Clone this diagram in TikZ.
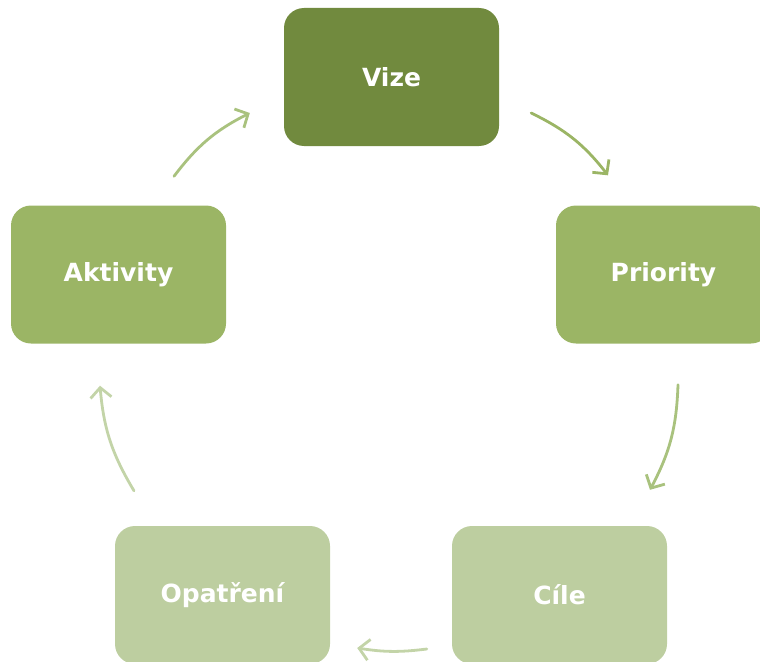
\documentclass[tikz,border=0pt]{standalone}
\usepackage{fontspec}
\setmainfont{DejaVu Sans}
\usetikzlibrary{arrows.meta}

\definecolor{vizegreen}{HTML}{718A3E}
\definecolor{midgreen}{HTML}{9BB565}
\definecolor{lightgreen}{HTML}{BDCEA0}
\definecolor{arrowmid}{HTML}{A9C27E}
\definecolor{arrowlight}{HTML}{C3D4A8}

\begin{document}
\begin{tikzpicture}[
    x=1pt, y=1pt,
    font=\bfseries\fontsize{25}{30}\selectfont,
    stage/.style={rectangle, rounded corners=20pt, minimum width=215pt, minimum height=138pt, inner sep=0pt, text=white},
    flow/.style={-{Straight Barb[length=10pt,width=21pt,line width=2.8pt]}, line width=2.8pt, line cap=round}
  ]
  \useasboundingbox (0,0) rectangle (760,-661);

  % Stages of the cycle
  \node[stage, fill=vizegreen] (vize) at (391.5,-77) {Vize};
  \node[stage, fill=midgreen] (priority) at (663.5,-274.5) {Priority};
  \node[stage, fill=lightgreen] (cile) at (559.5,-595) {Cíle};
  \node[stage, fill=lightgreen] (opatreni) at (222.5,-595) {Opatření};
  \node[stage, fill=midgreen] (aktivity) at (118.5,-274.5) {Aktivity};

  % Curved arrows between stages
  \draw[flow, midgreen] ([shift={(32,-36)}]vize.east) to[bend left=13] ([shift={(-55.5,30)}]priority.north);
  \draw[flow, arrowmid] ([shift={(14.5,-41)}]priority.south) to[bend left=13] ([shift={(90.5,36)}]cile.north);
  \draw[flow, arrowlight] ([shift={(-25,-54)}]cile.west) to[bend left=8] ([shift={(27,-53)}]opatreni.east);
  \draw[flow, arrowlight] ([shift={(-88.5,35)}]opatreni.north) to[bend left=13] ([shift={(-18.5,-42)}]aktivity.south);
  \draw[flow, arrowmid] ([shift={(55.5,29)}]aktivity.north) to[bend left=13] ([shift={(-34,-36)}]vize.west);

\end{tikzpicture}
\end{document}
